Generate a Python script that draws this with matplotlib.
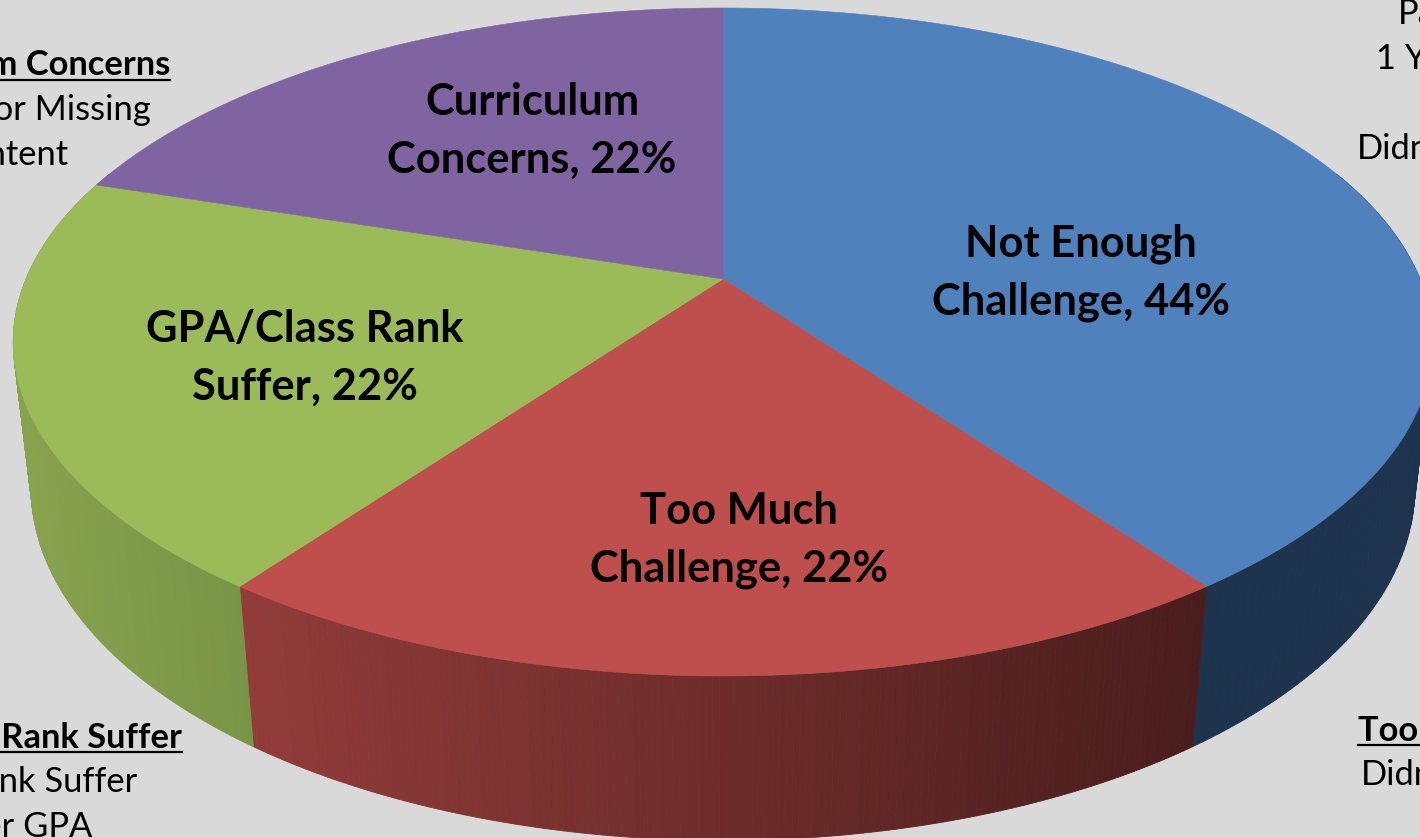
import numpy as np
import matplotlib
matplotlib.use("Agg")
import matplotlib.pyplot as plt
from matplotlib.collections import PolyCollection
from matplotlib.patches import Polygon

plt.rcParams['font.family'] = ['Lato', 'DejaVu Sans']

categories = ["Not Enough\nChallenge", "Too Much\nChallenge", "GPA/Class Rank\nSuffer", "Curriculum\nConcerns"]
values = [44, 22, 22, 22]
top_colors = ["#4F81BD", "#BE4F4C", "#9BBB59", "#8064A2"]
wall_left = [(30, 51, 77), (146, 60, 58), (137, 163, 78), (125, 100, 160)]
wall_right = [(30, 51, 77), (72, 29, 28), (120, 148, 70), (125, 100, 160)]
label_pos = [(1081, 273), (739, 540), (305, 358), (532, 131)]

BG = "#D9D9D9"
CX, CY, A, B, C = 723.0, 279.0, 697.0, 269.5, -0.1886   # perspective of the top face
D, E = 0.025, 154.4                                      # extrusion of the lower face


def project(theta, depth=0.0):
    x, v = np.sin(theta), -np.cos(theta)
    w = 1 + C * v + D * depth
    return CX + A * x / w, (CY + B * v + E * depth) / w


fig = plt.figure(figsize=(14.2, 8.38), dpi=100, facecolor=BG)
ax = fig.add_axes([0, 0, 1, 1])
ax.set_xlim(0, 1420)
ax.set_ylim(838, 0)
ax.axis("off")

total = sum(values)
edges = np.concatenate([[0], np.cumsum(values)]) / total * 2 * np.pi

# side walls
for i in range(len(values)):
    th = np.linspace(edges[i], edges[i + 1], 160)
    quads, cols = [], []
    xt, yt = project(th)
    xb, yb = project(th, 1.0)
    xmin, xmax = min(xt.min(), xb.min()), max(xt.max(), xb.max())
    for j in range(len(th) - 1):
        if np.cos((th[j] + th[j + 1]) / 2) > 0.35:
            continue
        quads.append([(xt[j], yt[j]), (xt[j + 1], yt[j + 1]), (xb[j + 1], yb[j + 1]), (xb[j], yb[j])])
        f = ((xt[j] + xb[j]) / 2 - xmin) / max(xmax - xmin, 1)
        c = (1 - f) * np.array(wall_left[i]) + f * np.array(wall_right[i])
        cols.append(c / 255)
    if quads:
        ax.add_collection(PolyCollection(quads, facecolors=cols, edgecolors=cols, linewidths=0.6, zorder=1))

# top face
for i in range(len(values)):
    th = np.linspace(edges[i], edges[i + 1], 240)
    x, y = project(th)
    pts = np.column_stack([np.r_[CX, x], np.r_[CY, y]])
    ax.add_patch(Polygon(pts, closed=True, facecolor=top_colors[i], edgecolor=top_colors[i], linewidth=0.4, zorder=2))

# data labels
for (cat, val, (lx, ly)) in zip(categories, values, label_pos):
    ax.text(lx, ly, f"{cat}, {val}%", ha="center", va="center", fontsize=31.3, fontweight="bold",
            color="black", linespacing=1.52, zorder=3)

# side notes, running off the canvas
TS = 24.8
def note(x, y, s, ha, bold=False):
    ax.text(x, y, s, ha=ha, va="center", fontsize=TS, fontweight="bold" if bold else "normal", color="black", zorder=3)

note(170, 65, "Curriculum Concerns", "right", True)
note(151, 110, "Major or Missing", "right")
note(69, 155, "Content", "right")
ax.plot([0, 170], [80, 80], color="black", lw=1.6, zorder=3)

note(182, 737, "GPA/Class Rank Suffer", "right", True)
note(137, 782, "Class Rank Suffer", "right")
note(92, 827, "Lower GPA", "right")
ax.plot([0, 182], [752, 752], color="black", lw=1.6, zorder=3)

note(1398, 14, "Pace", "left")
note(1376, 59, "1 Year", "left")
note(1357, 149, "Didn't", "left")

note(1358, 731, "Too Much", "left", True)
note(1361, 775, "Didn't", "left")
ax.plot([1358, 1420], [745, 745], color="black", lw=1.6, zorder=3)

fig.savefig("out.png", dpi=100, facecolor=BG)
